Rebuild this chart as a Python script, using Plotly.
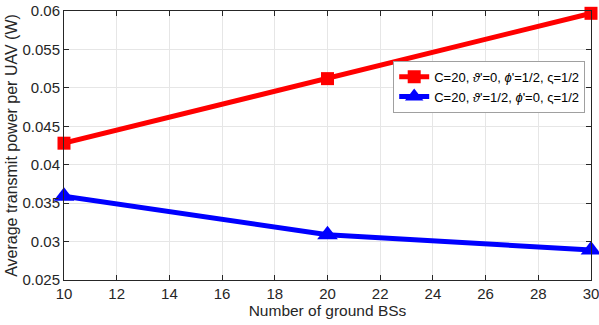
import plotly.graph_objects as go

num_bs = [10, 20, 30]
power_a = [0.0428, 0.0512, 0.0597]
power_b = [0.0359, 0.0309, 0.0289]
label_a = "C=20, <i>ϑ</i>'=0, <i>ϕ</i>'=1/2, ς=1/2"
label_b = "C=20, <i>ϑ</i>'=1/2, <i>ϕ</i>'=0, ς=1/2"

fig = go.Figure()
fig.add_trace(go.Scatter(x=num_bs, y=power_a, name=label_a, mode="lines+markers",
                         line=dict(color="#ff0000", width=5),
                         marker=dict(symbol="square", size=13, color="#ff0000"),
                         cliponaxis=False))
fig.add_trace(go.Scatter(x=num_bs, y=power_b, name=label_b, mode="lines+markers",
                         line=dict(color="#0000ff", width=5),
                         marker=dict(symbol="triangle-up", size=18, color="#0000ff"),
                         cliponaxis=False))

axis_common = dict(showline=True, linecolor="#262626", linewidth=1, mirror="ticks",
                   ticks="inside", ticklen=5, tickcolor="#262626",
                   showgrid=True, gridcolor="#e6e6e6", gridwidth=1, zeroline=False,
                   automargin=False, ticklabeloverflow="allow",
                   tickfont=dict(size=15, color="#262626"))

fig.update_xaxes(range=[10, 30], dtick=2,
                 title=dict(text="Number of ground BSs", font=dict(size=15.5, color="#262626"), standoff=2),
                 **axis_common)
fig.update_yaxes(range=[0.025, 0.06], dtick=0.005, tickformat="~g",
                 title=dict(text="Average transmit power per UAV (W)", font=dict(size=16, color="#262626"), standoff=0),
                 **axis_common)

fig.update_layout(
    width=599, height=325,
    margin=dict(l=64, r=8, t=11, b=45),
    paper_bgcolor="white", plot_bgcolor="white",
    font=dict(family="Liberation Sans, Arial, sans-serif", color="#262626"),
    legend=dict(x=0.989, y=0.815, xanchor="right", yanchor="top",
                bgcolor="white", bordercolor="#a0a0a0", borderwidth=1,
                font=dict(size=13, color="#000000"), itemwidth=30,
                tracegroupgap=0),
    showlegend=True,
)

fig.write_html("out.html", config={"displayModeBar": False},
               post_script="document.body.style.margin='0';")
